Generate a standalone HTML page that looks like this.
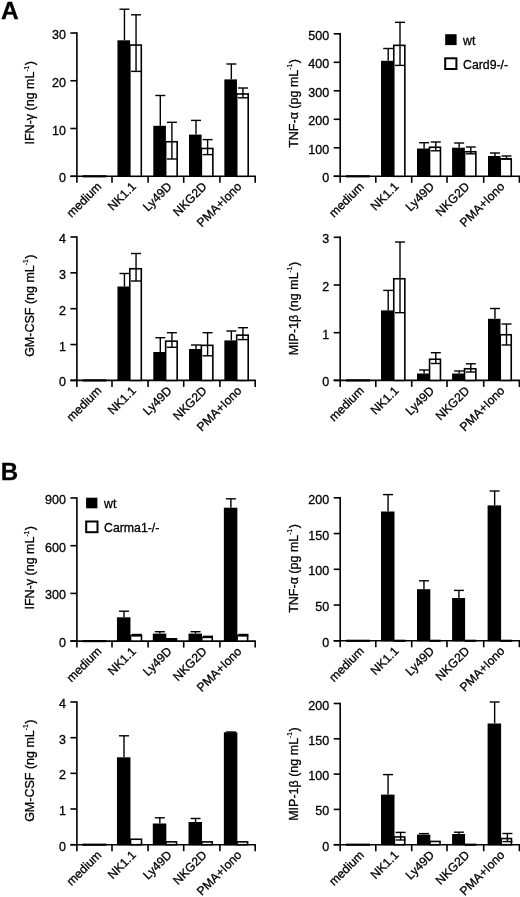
<!DOCTYPE html>
<html><head><meta charset="utf-8"><title>Figure</title>
<style>
html,body{margin:0;padding:0;background:#fff;}
body{width:520px;height:897px;overflow:hidden;}
svg{display:block;will-change:transform;transform:translateZ(0);}
text{font-family:"Liberation Sans", sans-serif;fill:#000;stroke:#000;stroke-width:0.3px;}
</style></head><body>
<svg width="520" height="897" viewBox="0 0 520 897">
<rect x="0" y="0" width="520" height="897" fill="#fff"/>
<line x1="76.90" y1="32.30" x2="76.90" y2="182.80" stroke="#000" stroke-width="1.6"/>
<line x1="70.40" y1="176.30" x2="255.90" y2="176.30" stroke="#000" stroke-width="1.6"/>
<line x1="70.40" y1="33.00" x2="76.90" y2="33.00" stroke="#000" stroke-width="1.6"/>
<text x="65.90" y="39.00" text-anchor="end" font-size="12.5">30</text>
<line x1="70.40" y1="80.75" x2="76.90" y2="80.75" stroke="#000" stroke-width="1.6"/>
<text x="65.90" y="86.75" text-anchor="end" font-size="12.5">20</text>
<line x1="70.40" y1="128.50" x2="76.90" y2="128.50" stroke="#000" stroke-width="1.6"/>
<text x="65.90" y="134.50" text-anchor="end" font-size="12.5">10</text>
<line x1="70.40" y1="176.30" x2="76.90" y2="176.30" stroke="#000" stroke-width="1.6"/>
<text x="65.90" y="182.30" text-anchor="end" font-size="12.5">0</text>
<line x1="112.00" y1="176.30" x2="112.00" y2="182.80" stroke="#000" stroke-width="1.6"/>
<line x1="148.10" y1="176.30" x2="148.10" y2="182.80" stroke="#000" stroke-width="1.6"/>
<line x1="183.70" y1="176.30" x2="183.70" y2="182.80" stroke="#000" stroke-width="1.6"/>
<line x1="219.90" y1="176.30" x2="219.90" y2="182.80" stroke="#000" stroke-width="1.6"/>
<line x1="255.20" y1="176.30" x2="255.20" y2="182.80" stroke="#000" stroke-width="1.6"/>
<text transform="translate(33.80,102.75) rotate(-90)" text-anchor="middle" font-size="12.5">IFN-γ (ng mL<tspan font-size="6.5" dy="-5.2" stroke-width="0.2">-1</tspan><tspan dy="5.2" dx="0.6">)</tspan></text>
<text transform="translate(102.15,187.30) rotate(-45)" text-anchor="end" font-size="12.2">medium</text>
<text transform="translate(136.75,187.30) rotate(-45)" text-anchor="end" font-size="12.2">NK1.1</text>
<text transform="translate(172.60,187.30) rotate(-45)" text-anchor="end" font-size="12.2">Ly49D</text>
<text transform="translate(207.60,187.30) rotate(-45)" text-anchor="end" font-size="12.2">NKG2D</text>
<text transform="translate(242.35,187.30) rotate(-45)" text-anchor="end" font-size="12.2">PMA+Iono</text>
<line x1="82.45" y1="176.30" x2="106.45" y2="176.30" stroke="#000" stroke-width="2.2"/>
<line x1="124.45" y1="9.20" x2="124.45" y2="40.30" stroke="#000" stroke-width="1.4"/>
<line x1="119.45" y1="9.20" x2="129.45" y2="9.20" stroke="#000" stroke-width="1.4"/>
<rect x="117.45" y="40.30" width="12.60" height="136.50" fill="#000"/>
<rect x="129.80" y="45.05" width="11.50" height="131.25" fill="#fff" stroke="#000" stroke-width="1.6"/>
<line x1="136.05" y1="14.80" x2="136.05" y2="71.40" stroke="#000" stroke-width="1.4"/>
<line x1="131.05" y1="14.80" x2="141.05" y2="14.80" stroke="#000" stroke-width="1.4"/>
<line x1="131.05" y1="71.40" x2="141.05" y2="71.40" stroke="#000" stroke-width="1.4"/>
<line x1="160.30" y1="95.50" x2="160.30" y2="125.80" stroke="#000" stroke-width="1.4"/>
<line x1="155.30" y1="95.50" x2="165.30" y2="95.50" stroke="#000" stroke-width="1.4"/>
<rect x="153.30" y="125.80" width="12.60" height="51.00" fill="#000"/>
<rect x="165.65" y="141.75" width="11.50" height="34.55" fill="#fff" stroke="#000" stroke-width="1.6"/>
<line x1="171.90" y1="122.30" x2="171.90" y2="159.00" stroke="#000" stroke-width="1.4"/>
<line x1="166.90" y1="122.30" x2="176.90" y2="122.30" stroke="#000" stroke-width="1.4"/>
<line x1="166.90" y1="159.00" x2="176.90" y2="159.00" stroke="#000" stroke-width="1.4"/>
<line x1="196.00" y1="120.40" x2="196.00" y2="134.60" stroke="#000" stroke-width="1.4"/>
<line x1="191.00" y1="120.40" x2="201.00" y2="120.40" stroke="#000" stroke-width="1.4"/>
<rect x="189.00" y="134.60" width="12.60" height="42.20" fill="#000"/>
<rect x="201.35" y="148.45" width="11.50" height="27.85" fill="#fff" stroke="#000" stroke-width="1.6"/>
<line x1="207.60" y1="139.60" x2="207.60" y2="154.60" stroke="#000" stroke-width="1.4"/>
<line x1="202.60" y1="139.60" x2="212.60" y2="139.60" stroke="#000" stroke-width="1.4"/>
<line x1="202.60" y1="154.60" x2="212.60" y2="154.60" stroke="#000" stroke-width="1.4"/>
<line x1="231.35" y1="64.00" x2="231.35" y2="79.40" stroke="#000" stroke-width="1.4"/>
<line x1="226.35" y1="64.00" x2="236.35" y2="64.00" stroke="#000" stroke-width="1.4"/>
<rect x="224.35" y="79.40" width="12.60" height="97.40" fill="#000"/>
<rect x="236.70" y="93.95" width="11.50" height="82.35" fill="#fff" stroke="#000" stroke-width="1.6"/>
<line x1="242.95" y1="88.00" x2="242.95" y2="97.80" stroke="#000" stroke-width="1.4"/>
<line x1="237.95" y1="88.00" x2="247.95" y2="88.00" stroke="#000" stroke-width="1.4"/>
<line x1="237.95" y1="97.80" x2="247.95" y2="97.80" stroke="#000" stroke-width="1.4"/>
<line x1="340.20" y1="33.10" x2="340.20" y2="182.80" stroke="#000" stroke-width="1.6"/>
<line x1="333.70" y1="176.30" x2="520.10" y2="176.30" stroke="#000" stroke-width="1.6"/>
<line x1="333.70" y1="33.80" x2="340.20" y2="33.80" stroke="#000" stroke-width="1.6"/>
<text x="329.20" y="39.80" text-anchor="end" font-size="12.5">500</text>
<line x1="333.70" y1="62.30" x2="340.20" y2="62.30" stroke="#000" stroke-width="1.6"/>
<text x="329.20" y="68.30" text-anchor="end" font-size="12.5">400</text>
<line x1="333.70" y1="90.80" x2="340.20" y2="90.80" stroke="#000" stroke-width="1.6"/>
<text x="329.20" y="96.80" text-anchor="end" font-size="12.5">300</text>
<line x1="333.70" y1="119.30" x2="340.20" y2="119.30" stroke="#000" stroke-width="1.6"/>
<text x="329.20" y="125.30" text-anchor="end" font-size="12.5">200</text>
<line x1="333.70" y1="147.80" x2="340.20" y2="147.80" stroke="#000" stroke-width="1.6"/>
<text x="329.20" y="153.80" text-anchor="end" font-size="12.5">100</text>
<line x1="333.70" y1="176.30" x2="340.20" y2="176.30" stroke="#000" stroke-width="1.6"/>
<text x="329.20" y="182.30" text-anchor="end" font-size="12.5">0</text>
<line x1="375.80" y1="176.30" x2="375.80" y2="182.80" stroke="#000" stroke-width="1.6"/>
<line x1="411.70" y1="176.30" x2="411.70" y2="182.80" stroke="#000" stroke-width="1.6"/>
<line x1="447.00" y1="176.30" x2="447.00" y2="182.80" stroke="#000" stroke-width="1.6"/>
<line x1="483.70" y1="176.30" x2="483.70" y2="182.80" stroke="#000" stroke-width="1.6"/>
<line x1="519.40" y1="176.30" x2="519.40" y2="182.80" stroke="#000" stroke-width="1.6"/>
<text transform="translate(297.60,103.50) rotate(-90)" text-anchor="middle" font-size="12.5">TNF-α (pg mL<tspan font-size="6.5" dy="-5.2" stroke-width="0.2">-1</tspan><tspan dy="5.2" dx="0.6">)</tspan></text>
<text transform="translate(364.70,187.30) rotate(-45)" text-anchor="end" font-size="12.2">medium</text>
<text transform="translate(399.45,187.30) rotate(-45)" text-anchor="end" font-size="12.2">NK1.1</text>
<text transform="translate(435.05,187.30) rotate(-45)" text-anchor="end" font-size="12.2">Ly49D</text>
<text transform="translate(470.15,187.30) rotate(-45)" text-anchor="end" font-size="12.2">NKG2D</text>
<text transform="translate(505.35,187.30) rotate(-45)" text-anchor="end" font-size="12.2">PMA+Iono</text>
<line x1="346.00" y1="176.30" x2="370.00" y2="176.30" stroke="#000" stroke-width="2.2"/>
<line x1="388.20" y1="48.50" x2="388.20" y2="60.80" stroke="#000" stroke-width="1.4"/>
<line x1="383.20" y1="48.50" x2="393.20" y2="48.50" stroke="#000" stroke-width="1.4"/>
<rect x="381.00" y="60.80" width="13.00" height="116.00" fill="#000"/>
<rect x="393.75" y="45.35" width="11.10" height="130.95" fill="#fff" stroke="#000" stroke-width="1.6"/>
<line x1="400.00" y1="22.30" x2="400.00" y2="65.40" stroke="#000" stroke-width="1.4"/>
<line x1="395.00" y1="22.30" x2="405.00" y2="22.30" stroke="#000" stroke-width="1.4"/>
<line x1="395.00" y1="65.40" x2="405.00" y2="65.40" stroke="#000" stroke-width="1.4"/>
<line x1="424.10" y1="142.70" x2="424.10" y2="148.50" stroke="#000" stroke-width="1.4"/>
<line x1="419.10" y1="142.70" x2="429.10" y2="142.70" stroke="#000" stroke-width="1.4"/>
<rect x="417.00" y="148.50" width="12.80" height="28.30" fill="#000"/>
<rect x="429.55" y="147.25" width="10.90" height="29.05" fill="#fff" stroke="#000" stroke-width="1.6"/>
<line x1="435.80" y1="142.00" x2="435.80" y2="150.80" stroke="#000" stroke-width="1.4"/>
<line x1="430.80" y1="142.00" x2="440.80" y2="142.00" stroke="#000" stroke-width="1.4"/>
<line x1="430.80" y1="150.80" x2="440.80" y2="150.80" stroke="#000" stroke-width="1.4"/>
<line x1="459.15" y1="143.00" x2="459.15" y2="147.70" stroke="#000" stroke-width="1.4"/>
<line x1="454.15" y1="143.00" x2="464.15" y2="143.00" stroke="#000" stroke-width="1.4"/>
<rect x="452.10" y="147.70" width="12.70" height="29.10" fill="#000"/>
<rect x="464.55" y="151.75" width="11.30" height="24.55" fill="#fff" stroke="#000" stroke-width="1.6"/>
<line x1="470.80" y1="147.00" x2="470.80" y2="153.80" stroke="#000" stroke-width="1.4"/>
<line x1="465.80" y1="147.00" x2="475.80" y2="147.00" stroke="#000" stroke-width="1.4"/>
<line x1="465.80" y1="153.80" x2="475.80" y2="153.80" stroke="#000" stroke-width="1.4"/>
<line x1="494.95" y1="153.00" x2="494.95" y2="156.00" stroke="#000" stroke-width="1.4"/>
<line x1="489.95" y1="153.00" x2="499.95" y2="153.00" stroke="#000" stroke-width="1.4"/>
<rect x="488.00" y="156.00" width="12.50" height="20.80" fill="#000"/>
<rect x="500.25" y="158.75" width="11.00" height="17.55" fill="#fff" stroke="#000" stroke-width="1.6"/>
<line x1="506.50" y1="156.00" x2="506.50" y2="159.20" stroke="#000" stroke-width="1.4"/>
<line x1="501.50" y1="156.00" x2="511.50" y2="156.00" stroke="#000" stroke-width="1.4"/>
<line x1="501.50" y1="159.20" x2="511.50" y2="159.20" stroke="#000" stroke-width="1.4"/>
<line x1="76.90" y1="236.30" x2="76.90" y2="386.90" stroke="#000" stroke-width="1.6"/>
<line x1="70.40" y1="380.40" x2="255.90" y2="380.40" stroke="#000" stroke-width="1.6"/>
<line x1="70.40" y1="237.00" x2="76.90" y2="237.00" stroke="#000" stroke-width="1.6"/>
<text x="65.90" y="243.00" text-anchor="end" font-size="12.5">4</text>
<line x1="70.40" y1="272.85" x2="76.90" y2="272.85" stroke="#000" stroke-width="1.6"/>
<text x="65.90" y="278.85" text-anchor="end" font-size="12.5">3</text>
<line x1="70.40" y1="308.70" x2="76.90" y2="308.70" stroke="#000" stroke-width="1.6"/>
<text x="65.90" y="314.70" text-anchor="end" font-size="12.5">2</text>
<line x1="70.40" y1="344.55" x2="76.90" y2="344.55" stroke="#000" stroke-width="1.6"/>
<text x="65.90" y="350.55" text-anchor="end" font-size="12.5">1</text>
<line x1="70.40" y1="380.40" x2="76.90" y2="380.40" stroke="#000" stroke-width="1.6"/>
<text x="65.90" y="386.40" text-anchor="end" font-size="12.5">0</text>
<line x1="112.00" y1="380.40" x2="112.00" y2="386.90" stroke="#000" stroke-width="1.6"/>
<line x1="148.10" y1="380.40" x2="148.10" y2="386.90" stroke="#000" stroke-width="1.6"/>
<line x1="183.70" y1="380.40" x2="183.70" y2="386.90" stroke="#000" stroke-width="1.6"/>
<line x1="219.90" y1="380.40" x2="219.90" y2="386.90" stroke="#000" stroke-width="1.6"/>
<line x1="255.20" y1="380.40" x2="255.20" y2="386.90" stroke="#000" stroke-width="1.6"/>
<text transform="translate(33.50,305.75) rotate(-90)" text-anchor="middle" font-size="12.5">GM-CSF (ng mL<tspan font-size="6.5" dy="-5.2" stroke-width="0.2">-1</tspan><tspan dy="5.2" dx="0.6">)</tspan></text>
<text transform="translate(102.15,391.40) rotate(-45)" text-anchor="end" font-size="12.2">medium</text>
<text transform="translate(136.75,391.40) rotate(-45)" text-anchor="end" font-size="12.2">NK1.1</text>
<text transform="translate(172.60,391.40) rotate(-45)" text-anchor="end" font-size="12.2">Ly49D</text>
<text transform="translate(207.60,391.40) rotate(-45)" text-anchor="end" font-size="12.2">NKG2D</text>
<text transform="translate(242.35,391.40) rotate(-45)" text-anchor="end" font-size="12.2">PMA+Iono</text>
<line x1="82.45" y1="380.40" x2="106.45" y2="380.40" stroke="#000" stroke-width="2.2"/>
<line x1="124.45" y1="273.50" x2="124.45" y2="286.50" stroke="#000" stroke-width="1.4"/>
<line x1="119.45" y1="273.50" x2="129.45" y2="273.50" stroke="#000" stroke-width="1.4"/>
<rect x="117.45" y="286.50" width="12.60" height="94.40" fill="#000"/>
<rect x="129.80" y="268.75" width="11.50" height="111.65" fill="#fff" stroke="#000" stroke-width="1.6"/>
<line x1="136.05" y1="253.50" x2="136.05" y2="281.00" stroke="#000" stroke-width="1.4"/>
<line x1="131.05" y1="253.50" x2="141.05" y2="253.50" stroke="#000" stroke-width="1.4"/>
<line x1="131.05" y1="281.00" x2="141.05" y2="281.00" stroke="#000" stroke-width="1.4"/>
<line x1="160.30" y1="337.70" x2="160.30" y2="352.00" stroke="#000" stroke-width="1.4"/>
<line x1="155.30" y1="337.70" x2="165.30" y2="337.70" stroke="#000" stroke-width="1.4"/>
<rect x="153.30" y="352.00" width="12.60" height="28.90" fill="#000"/>
<rect x="165.65" y="341.15" width="11.50" height="39.25" fill="#fff" stroke="#000" stroke-width="1.6"/>
<line x1="171.90" y1="332.70" x2="171.90" y2="347.30" stroke="#000" stroke-width="1.4"/>
<line x1="166.90" y1="332.70" x2="176.90" y2="332.70" stroke="#000" stroke-width="1.4"/>
<line x1="166.90" y1="347.30" x2="176.90" y2="347.30" stroke="#000" stroke-width="1.4"/>
<line x1="196.00" y1="345.00" x2="196.00" y2="349.00" stroke="#000" stroke-width="1.4"/>
<line x1="191.00" y1="345.00" x2="201.00" y2="345.00" stroke="#000" stroke-width="1.4"/>
<rect x="189.00" y="349.00" width="12.60" height="31.90" fill="#000"/>
<rect x="201.35" y="345.35" width="11.50" height="35.05" fill="#fff" stroke="#000" stroke-width="1.6"/>
<line x1="207.60" y1="332.70" x2="207.60" y2="355.80" stroke="#000" stroke-width="1.4"/>
<line x1="202.60" y1="332.70" x2="212.60" y2="332.70" stroke="#000" stroke-width="1.4"/>
<line x1="202.60" y1="355.80" x2="212.60" y2="355.80" stroke="#000" stroke-width="1.4"/>
<line x1="231.35" y1="331.00" x2="231.35" y2="340.40" stroke="#000" stroke-width="1.4"/>
<line x1="226.35" y1="331.00" x2="236.35" y2="331.00" stroke="#000" stroke-width="1.4"/>
<rect x="224.35" y="340.40" width="12.60" height="40.50" fill="#000"/>
<rect x="236.70" y="335.15" width="11.50" height="45.25" fill="#fff" stroke="#000" stroke-width="1.6"/>
<line x1="242.95" y1="327.70" x2="242.95" y2="339.60" stroke="#000" stroke-width="1.4"/>
<line x1="237.95" y1="327.70" x2="247.95" y2="327.70" stroke="#000" stroke-width="1.4"/>
<line x1="237.95" y1="339.60" x2="247.95" y2="339.60" stroke="#000" stroke-width="1.4"/>
<line x1="340.20" y1="236.60" x2="340.20" y2="386.90" stroke="#000" stroke-width="1.6"/>
<line x1="333.70" y1="380.40" x2="520.10" y2="380.40" stroke="#000" stroke-width="1.6"/>
<line x1="333.70" y1="237.30" x2="340.20" y2="237.30" stroke="#000" stroke-width="1.6"/>
<text x="329.20" y="243.30" text-anchor="end" font-size="12.5">3</text>
<line x1="333.70" y1="285.00" x2="340.20" y2="285.00" stroke="#000" stroke-width="1.6"/>
<text x="329.20" y="291.00" text-anchor="end" font-size="12.5">2</text>
<line x1="333.70" y1="332.70" x2="340.20" y2="332.70" stroke="#000" stroke-width="1.6"/>
<text x="329.20" y="338.70" text-anchor="end" font-size="12.5">1</text>
<line x1="333.70" y1="380.40" x2="340.20" y2="380.40" stroke="#000" stroke-width="1.6"/>
<text x="329.20" y="386.40" text-anchor="end" font-size="12.5">0</text>
<line x1="375.80" y1="380.40" x2="375.80" y2="386.90" stroke="#000" stroke-width="1.6"/>
<line x1="411.70" y1="380.40" x2="411.70" y2="386.90" stroke="#000" stroke-width="1.6"/>
<line x1="447.00" y1="380.40" x2="447.00" y2="386.90" stroke="#000" stroke-width="1.6"/>
<line x1="483.70" y1="380.40" x2="483.70" y2="386.90" stroke="#000" stroke-width="1.6"/>
<line x1="519.40" y1="380.40" x2="519.40" y2="386.90" stroke="#000" stroke-width="1.6"/>
<text transform="translate(297.60,308.60) rotate(-90)" text-anchor="middle" font-size="12.5">MIP-1β (ng mL<tspan font-size="6.5" dy="-5.2" stroke-width="0.2">-1</tspan><tspan dy="5.2" dx="0.6">)</tspan></text>
<text transform="translate(364.70,391.40) rotate(-45)" text-anchor="end" font-size="12.2">medium</text>
<text transform="translate(399.45,391.40) rotate(-45)" text-anchor="end" font-size="12.2">NK1.1</text>
<text transform="translate(435.05,391.40) rotate(-45)" text-anchor="end" font-size="12.2">Ly49D</text>
<text transform="translate(470.15,391.40) rotate(-45)" text-anchor="end" font-size="12.2">NKG2D</text>
<text transform="translate(505.35,391.40) rotate(-45)" text-anchor="end" font-size="12.2">PMA+Iono</text>
<line x1="346.00" y1="380.40" x2="370.00" y2="380.40" stroke="#000" stroke-width="2.2"/>
<line x1="388.20" y1="290.40" x2="388.20" y2="310.40" stroke="#000" stroke-width="1.4"/>
<line x1="383.20" y1="290.40" x2="393.20" y2="290.40" stroke="#000" stroke-width="1.4"/>
<rect x="381.00" y="310.40" width="13.00" height="70.50" fill="#000"/>
<rect x="393.75" y="278.75" width="11.10" height="101.65" fill="#fff" stroke="#000" stroke-width="1.6"/>
<line x1="400.00" y1="242.00" x2="400.00" y2="312.70" stroke="#000" stroke-width="1.4"/>
<line x1="395.00" y1="242.00" x2="405.00" y2="242.00" stroke="#000" stroke-width="1.4"/>
<line x1="395.00" y1="312.70" x2="405.00" y2="312.70" stroke="#000" stroke-width="1.4"/>
<line x1="424.10" y1="370.00" x2="424.10" y2="373.50" stroke="#000" stroke-width="1.4"/>
<line x1="419.10" y1="370.00" x2="429.10" y2="370.00" stroke="#000" stroke-width="1.4"/>
<rect x="417.00" y="373.50" width="12.80" height="7.40" fill="#000"/>
<rect x="429.55" y="359.25" width="10.90" height="21.15" fill="#fff" stroke="#000" stroke-width="1.6"/>
<line x1="435.80" y1="352.70" x2="435.80" y2="363.50" stroke="#000" stroke-width="1.4"/>
<line x1="430.80" y1="352.70" x2="440.80" y2="352.70" stroke="#000" stroke-width="1.4"/>
<line x1="430.80" y1="363.50" x2="440.80" y2="363.50" stroke="#000" stroke-width="1.4"/>
<line x1="459.15" y1="371.00" x2="459.15" y2="373.50" stroke="#000" stroke-width="1.4"/>
<line x1="454.15" y1="371.00" x2="464.15" y2="371.00" stroke="#000" stroke-width="1.4"/>
<rect x="452.10" y="373.50" width="12.70" height="7.40" fill="#000"/>
<rect x="464.55" y="368.75" width="11.30" height="11.65" fill="#fff" stroke="#000" stroke-width="1.6"/>
<line x1="470.80" y1="363.80" x2="470.80" y2="372.00" stroke="#000" stroke-width="1.4"/>
<line x1="465.80" y1="363.80" x2="475.80" y2="363.80" stroke="#000" stroke-width="1.4"/>
<line x1="465.80" y1="372.00" x2="475.80" y2="372.00" stroke="#000" stroke-width="1.4"/>
<line x1="494.95" y1="308.50" x2="494.95" y2="318.80" stroke="#000" stroke-width="1.4"/>
<line x1="489.95" y1="308.50" x2="499.95" y2="308.50" stroke="#000" stroke-width="1.4"/>
<rect x="488.00" y="318.80" width="12.50" height="62.10" fill="#000"/>
<rect x="500.25" y="334.75" width="11.00" height="45.65" fill="#fff" stroke="#000" stroke-width="1.6"/>
<line x1="506.50" y1="324.00" x2="506.50" y2="345.00" stroke="#000" stroke-width="1.4"/>
<line x1="501.50" y1="324.00" x2="511.50" y2="324.00" stroke="#000" stroke-width="1.4"/>
<line x1="501.50" y1="345.00" x2="511.50" y2="345.00" stroke="#000" stroke-width="1.4"/>
<line x1="76.90" y1="497.30" x2="76.90" y2="647.60" stroke="#000" stroke-width="1.6"/>
<line x1="70.40" y1="641.10" x2="255.90" y2="641.10" stroke="#000" stroke-width="1.6"/>
<line x1="70.40" y1="498.00" x2="76.90" y2="498.00" stroke="#000" stroke-width="1.6"/>
<text x="65.90" y="504.00" text-anchor="end" font-size="12.5">900</text>
<line x1="70.40" y1="545.70" x2="76.90" y2="545.70" stroke="#000" stroke-width="1.6"/>
<text x="65.90" y="551.70" text-anchor="end" font-size="12.5">600</text>
<line x1="70.40" y1="593.40" x2="76.90" y2="593.40" stroke="#000" stroke-width="1.6"/>
<text x="65.90" y="599.40" text-anchor="end" font-size="12.5">300</text>
<line x1="70.40" y1="641.10" x2="76.90" y2="641.10" stroke="#000" stroke-width="1.6"/>
<text x="65.90" y="647.10" text-anchor="end" font-size="12.5">0</text>
<line x1="112.00" y1="641.10" x2="112.00" y2="647.60" stroke="#000" stroke-width="1.6"/>
<line x1="148.10" y1="641.10" x2="148.10" y2="647.60" stroke="#000" stroke-width="1.6"/>
<line x1="183.70" y1="641.10" x2="183.70" y2="647.60" stroke="#000" stroke-width="1.6"/>
<line x1="219.90" y1="641.10" x2="219.90" y2="647.60" stroke="#000" stroke-width="1.6"/>
<line x1="255.20" y1="641.10" x2="255.20" y2="647.60" stroke="#000" stroke-width="1.6"/>
<text transform="translate(33.80,567.75) rotate(-90)" text-anchor="middle" font-size="12.5">IFN-γ (ng mL<tspan font-size="6.5" dy="-5.2" stroke-width="0.2">-1</tspan><tspan dy="5.2" dx="0.6">)</tspan></text>
<text transform="translate(102.15,652.10) rotate(-45)" text-anchor="end" font-size="12.2">medium</text>
<text transform="translate(136.75,652.10) rotate(-45)" text-anchor="end" font-size="12.2">NK1.1</text>
<text transform="translate(172.60,652.10) rotate(-45)" text-anchor="end" font-size="12.2">Ly49D</text>
<text transform="translate(207.60,652.10) rotate(-45)" text-anchor="end" font-size="12.2">NKG2D</text>
<text transform="translate(242.35,652.10) rotate(-45)" text-anchor="end" font-size="12.2">PMA+Iono</text>
<line x1="82.45" y1="641.10" x2="106.45" y2="641.10" stroke="#000" stroke-width="2.2"/>
<line x1="124.00" y1="611.20" x2="124.00" y2="617.30" stroke="#000" stroke-width="1.4"/>
<line x1="119.00" y1="611.20" x2="129.00" y2="611.20" stroke="#000" stroke-width="1.4"/>
<rect x="116.95" y="617.30" width="13.50" height="24.30" fill="#000"/>
<rect x="130.50" y="635.45" width="11.00" height="5.65" fill="#fff" stroke="#000" stroke-width="1.6"/>
<line x1="136.75" y1="634.50" x2="136.75" y2="635.80" stroke="#000" stroke-width="1.4"/>
<line x1="131.75" y1="634.50" x2="141.75" y2="634.50" stroke="#000" stroke-width="1.4"/>
<line x1="131.75" y1="635.80" x2="141.75" y2="635.80" stroke="#000" stroke-width="1.4"/>
<line x1="159.85" y1="631.70" x2="159.85" y2="633.60" stroke="#000" stroke-width="1.4"/>
<line x1="154.85" y1="631.70" x2="164.85" y2="631.70" stroke="#000" stroke-width="1.4"/>
<rect x="152.80" y="633.60" width="13.50" height="8.00" fill="#000"/>
<rect x="165.30" y="638.00" width="12.00" height="3.60" fill="#000"/>
<line x1="195.55" y1="631.70" x2="195.55" y2="633.60" stroke="#000" stroke-width="1.4"/>
<line x1="190.55" y1="631.70" x2="200.55" y2="631.70" stroke="#000" stroke-width="1.4"/>
<rect x="188.50" y="633.60" width="13.50" height="8.00" fill="#000"/>
<rect x="201.75" y="637.35" width="10.50" height="3.75" fill="#fff" stroke="#000" stroke-width="1.6"/>
<line x1="208.00" y1="636.30" x2="208.00" y2="637.20" stroke="#000" stroke-width="1.4"/>
<line x1="203.00" y1="636.30" x2="213.00" y2="636.30" stroke="#000" stroke-width="1.4"/>
<line x1="203.00" y1="637.20" x2="213.00" y2="637.20" stroke="#000" stroke-width="1.4"/>
<line x1="230.90" y1="498.80" x2="230.90" y2="507.70" stroke="#000" stroke-width="1.4"/>
<line x1="225.90" y1="498.80" x2="235.90" y2="498.80" stroke="#000" stroke-width="1.4"/>
<rect x="223.85" y="507.70" width="13.50" height="133.90" fill="#000"/>
<rect x="237.10" y="635.45" width="10.50" height="5.65" fill="#fff" stroke="#000" stroke-width="1.6"/>
<line x1="243.35" y1="634.50" x2="243.35" y2="635.80" stroke="#000" stroke-width="1.4"/>
<line x1="238.35" y1="634.50" x2="248.35" y2="634.50" stroke="#000" stroke-width="1.4"/>
<line x1="238.35" y1="635.80" x2="248.35" y2="635.80" stroke="#000" stroke-width="1.4"/>
<line x1="340.20" y1="497.10" x2="340.20" y2="647.30" stroke="#000" stroke-width="1.6"/>
<line x1="333.70" y1="640.80" x2="520.10" y2="640.80" stroke="#000" stroke-width="1.6"/>
<line x1="333.70" y1="497.80" x2="340.20" y2="497.80" stroke="#000" stroke-width="1.6"/>
<text x="329.20" y="503.80" text-anchor="end" font-size="12.5">200</text>
<line x1="333.70" y1="533.55" x2="340.20" y2="533.55" stroke="#000" stroke-width="1.6"/>
<text x="329.20" y="539.55" text-anchor="end" font-size="12.5">150</text>
<line x1="333.70" y1="569.30" x2="340.20" y2="569.30" stroke="#000" stroke-width="1.6"/>
<text x="329.20" y="575.30" text-anchor="end" font-size="12.5">100</text>
<line x1="333.70" y1="605.05" x2="340.20" y2="605.05" stroke="#000" stroke-width="1.6"/>
<text x="329.20" y="611.05" text-anchor="end" font-size="12.5">50</text>
<line x1="333.70" y1="640.80" x2="340.20" y2="640.80" stroke="#000" stroke-width="1.6"/>
<text x="329.20" y="646.80" text-anchor="end" font-size="12.5">0</text>
<line x1="375.80" y1="640.80" x2="375.80" y2="647.30" stroke="#000" stroke-width="1.6"/>
<line x1="411.70" y1="640.80" x2="411.70" y2="647.30" stroke="#000" stroke-width="1.6"/>
<line x1="447.00" y1="640.80" x2="447.00" y2="647.30" stroke="#000" stroke-width="1.6"/>
<line x1="483.70" y1="640.80" x2="483.70" y2="647.30" stroke="#000" stroke-width="1.6"/>
<line x1="519.40" y1="640.80" x2="519.40" y2="647.30" stroke="#000" stroke-width="1.6"/>
<text transform="translate(297.60,568.50) rotate(-90)" text-anchor="middle" font-size="12.5">TNF-α (pg mL<tspan font-size="6.5" dy="-5.2" stroke-width="0.2">-1</tspan><tspan dy="5.2" dx="0.6">)</tspan></text>
<text transform="translate(364.70,651.80) rotate(-45)" text-anchor="end" font-size="12.2">medium</text>
<text transform="translate(399.45,651.80) rotate(-45)" text-anchor="end" font-size="12.2">NK1.1</text>
<text transform="translate(435.05,651.80) rotate(-45)" text-anchor="end" font-size="12.2">Ly49D</text>
<text transform="translate(470.15,651.80) rotate(-45)" text-anchor="end" font-size="12.2">NKG2D</text>
<text transform="translate(505.35,651.80) rotate(-45)" text-anchor="end" font-size="12.2">PMA+Iono</text>
<line x1="346.00" y1="640.80" x2="370.00" y2="640.80" stroke="#000" stroke-width="2.2"/>
<line x1="388.05" y1="494.60" x2="388.05" y2="511.50" stroke="#000" stroke-width="1.4"/>
<line x1="383.05" y1="494.60" x2="393.05" y2="494.60" stroke="#000" stroke-width="1.4"/>
<rect x="381.00" y="511.50" width="13.50" height="129.80" fill="#000"/>
<line x1="393.60" y1="640.80" x2="405.50" y2="640.80" stroke="#000" stroke-width="2.2"/>
<line x1="423.95" y1="580.80" x2="423.95" y2="589.20" stroke="#000" stroke-width="1.4"/>
<line x1="418.95" y1="580.80" x2="428.95" y2="580.80" stroke="#000" stroke-width="1.4"/>
<rect x="417.00" y="589.20" width="13.30" height="52.10" fill="#000"/>
<line x1="429.30" y1="640.80" x2="440.80" y2="640.80" stroke="#000" stroke-width="2.2"/>
<line x1="458.90" y1="590.40" x2="458.90" y2="598.00" stroke="#000" stroke-width="1.4"/>
<line x1="453.90" y1="590.40" x2="463.90" y2="590.40" stroke="#000" stroke-width="1.4"/>
<rect x="452.10" y="598.00" width="13.00" height="43.30" fill="#000"/>
<line x1="464.60" y1="640.80" x2="476.30" y2="640.80" stroke="#000" stroke-width="2.2"/>
<line x1="494.65" y1="491.00" x2="494.65" y2="505.40" stroke="#000" stroke-width="1.4"/>
<line x1="489.65" y1="491.00" x2="499.65" y2="491.00" stroke="#000" stroke-width="1.4"/>
<rect x="487.60" y="505.40" width="13.50" height="135.90" fill="#000"/>
<line x1="500.40" y1="640.80" x2="512.20" y2="640.80" stroke="#000" stroke-width="2.2"/>
<line x1="76.90" y1="701.30" x2="76.90" y2="851.20" stroke="#000" stroke-width="1.6"/>
<line x1="70.40" y1="844.70" x2="255.90" y2="844.70" stroke="#000" stroke-width="1.6"/>
<line x1="70.40" y1="702.00" x2="76.90" y2="702.00" stroke="#000" stroke-width="1.6"/>
<text x="65.90" y="708.00" text-anchor="end" font-size="12.5">4</text>
<line x1="70.40" y1="737.70" x2="76.90" y2="737.70" stroke="#000" stroke-width="1.6"/>
<text x="65.90" y="743.70" text-anchor="end" font-size="12.5">3</text>
<line x1="70.40" y1="773.35" x2="76.90" y2="773.35" stroke="#000" stroke-width="1.6"/>
<text x="65.90" y="779.35" text-anchor="end" font-size="12.5">2</text>
<line x1="70.40" y1="809.00" x2="76.90" y2="809.00" stroke="#000" stroke-width="1.6"/>
<text x="65.90" y="815.00" text-anchor="end" font-size="12.5">1</text>
<line x1="70.40" y1="844.70" x2="76.90" y2="844.70" stroke="#000" stroke-width="1.6"/>
<text x="65.90" y="850.70" text-anchor="end" font-size="12.5">0</text>
<line x1="112.00" y1="844.70" x2="112.00" y2="851.20" stroke="#000" stroke-width="1.6"/>
<line x1="148.10" y1="844.70" x2="148.10" y2="851.20" stroke="#000" stroke-width="1.6"/>
<line x1="183.70" y1="844.70" x2="183.70" y2="851.20" stroke="#000" stroke-width="1.6"/>
<line x1="219.90" y1="844.70" x2="219.90" y2="851.20" stroke="#000" stroke-width="1.6"/>
<line x1="255.20" y1="844.70" x2="255.20" y2="851.20" stroke="#000" stroke-width="1.6"/>
<text transform="translate(33.50,770.75) rotate(-90)" text-anchor="middle" font-size="12.5">GM-CSF (ng mL<tspan font-size="6.5" dy="-5.2" stroke-width="0.2">-1</tspan><tspan dy="5.2" dx="0.6">)</tspan></text>
<text transform="translate(102.15,855.70) rotate(-45)" text-anchor="end" font-size="12.2">medium</text>
<text transform="translate(136.75,855.70) rotate(-45)" text-anchor="end" font-size="12.2">NK1.1</text>
<text transform="translate(172.60,855.70) rotate(-45)" text-anchor="end" font-size="12.2">Ly49D</text>
<text transform="translate(207.60,855.70) rotate(-45)" text-anchor="end" font-size="12.2">NKG2D</text>
<text transform="translate(242.35,855.70) rotate(-45)" text-anchor="end" font-size="12.2">PMA+Iono</text>
<line x1="82.45" y1="844.70" x2="106.45" y2="844.70" stroke="#000" stroke-width="2.2"/>
<line x1="124.00" y1="735.80" x2="124.00" y2="757.30" stroke="#000" stroke-width="1.4"/>
<line x1="119.00" y1="735.80" x2="129.00" y2="735.80" stroke="#000" stroke-width="1.4"/>
<rect x="116.95" y="757.30" width="13.50" height="87.90" fill="#000"/>
<rect x="130.50" y="839.25" width="11.00" height="5.45" fill="#fff" stroke="#000" stroke-width="1.6"/>
<line x1="159.85" y1="817.80" x2="159.85" y2="823.50" stroke="#000" stroke-width="1.4"/>
<line x1="154.85" y1="817.80" x2="164.85" y2="817.80" stroke="#000" stroke-width="1.4"/>
<rect x="152.80" y="823.50" width="13.50" height="21.70" fill="#000"/>
<rect x="166.05" y="841.85" width="10.50" height="2.85" fill="#fff" stroke="#000" stroke-width="1.6"/>
<line x1="195.55" y1="818.50" x2="195.55" y2="822.00" stroke="#000" stroke-width="1.4"/>
<line x1="190.55" y1="818.50" x2="200.55" y2="818.50" stroke="#000" stroke-width="1.4"/>
<rect x="188.50" y="822.00" width="13.50" height="23.20" fill="#000"/>
<rect x="201.75" y="841.85" width="10.50" height="2.85" fill="#fff" stroke="#000" stroke-width="1.6"/>
<line x1="230.90" y1="732.00" x2="230.90" y2="732.30" stroke="#000" stroke-width="1.4"/>
<line x1="225.90" y1="732.00" x2="235.90" y2="732.00" stroke="#000" stroke-width="1.4"/>
<rect x="223.85" y="732.30" width="13.50" height="112.90" fill="#000"/>
<rect x="237.10" y="841.85" width="10.50" height="2.85" fill="#fff" stroke="#000" stroke-width="1.6"/>
<line x1="340.20" y1="702.80" x2="340.20" y2="851.20" stroke="#000" stroke-width="1.6"/>
<line x1="333.70" y1="844.70" x2="520.10" y2="844.70" stroke="#000" stroke-width="1.6"/>
<line x1="333.70" y1="703.50" x2="340.20" y2="703.50" stroke="#000" stroke-width="1.6"/>
<text x="329.20" y="709.50" text-anchor="end" font-size="12.5">200</text>
<line x1="333.70" y1="738.80" x2="340.20" y2="738.80" stroke="#000" stroke-width="1.6"/>
<text x="329.20" y="744.80" text-anchor="end" font-size="12.5">150</text>
<line x1="333.70" y1="774.10" x2="340.20" y2="774.10" stroke="#000" stroke-width="1.6"/>
<text x="329.20" y="780.10" text-anchor="end" font-size="12.5">100</text>
<line x1="333.70" y1="809.40" x2="340.20" y2="809.40" stroke="#000" stroke-width="1.6"/>
<text x="329.20" y="815.40" text-anchor="end" font-size="12.5">50</text>
<line x1="333.70" y1="844.70" x2="340.20" y2="844.70" stroke="#000" stroke-width="1.6"/>
<text x="329.20" y="850.70" text-anchor="end" font-size="12.5">0</text>
<line x1="375.80" y1="844.70" x2="375.80" y2="851.20" stroke="#000" stroke-width="1.6"/>
<line x1="411.70" y1="844.70" x2="411.70" y2="851.20" stroke="#000" stroke-width="1.6"/>
<line x1="447.00" y1="844.70" x2="447.00" y2="851.20" stroke="#000" stroke-width="1.6"/>
<line x1="483.70" y1="844.70" x2="483.70" y2="851.20" stroke="#000" stroke-width="1.6"/>
<line x1="519.40" y1="844.70" x2="519.40" y2="851.20" stroke="#000" stroke-width="1.6"/>
<text transform="translate(297.60,774.10) rotate(-90)" text-anchor="middle" font-size="12.5">MIP-1β (ng mL<tspan font-size="6.5" dy="-5.2" stroke-width="0.2">-1</tspan><tspan dy="5.2" dx="0.6">)</tspan></text>
<text transform="translate(364.70,855.70) rotate(-45)" text-anchor="end" font-size="12.2">medium</text>
<text transform="translate(399.45,855.70) rotate(-45)" text-anchor="end" font-size="12.2">NK1.1</text>
<text transform="translate(435.05,855.70) rotate(-45)" text-anchor="end" font-size="12.2">Ly49D</text>
<text transform="translate(470.15,855.70) rotate(-45)" text-anchor="end" font-size="12.2">NKG2D</text>
<text transform="translate(505.35,855.70) rotate(-45)" text-anchor="end" font-size="12.2">PMA+Iono</text>
<line x1="346.00" y1="844.70" x2="370.00" y2="844.70" stroke="#000" stroke-width="2.2"/>
<line x1="388.05" y1="774.60" x2="388.05" y2="794.60" stroke="#000" stroke-width="1.4"/>
<line x1="383.05" y1="774.60" x2="393.05" y2="774.60" stroke="#000" stroke-width="1.4"/>
<rect x="381.00" y="794.60" width="13.50" height="50.60" fill="#000"/>
<rect x="394.35" y="836.95" width="10.40" height="7.75" fill="#fff" stroke="#000" stroke-width="1.6"/>
<line x1="400.60" y1="832.40" x2="400.60" y2="840.00" stroke="#000" stroke-width="1.4"/>
<line x1="395.60" y1="832.40" x2="405.60" y2="832.40" stroke="#000" stroke-width="1.4"/>
<line x1="395.60" y1="840.00" x2="405.60" y2="840.00" stroke="#000" stroke-width="1.4"/>
<line x1="423.95" y1="833.60" x2="423.95" y2="834.60" stroke="#000" stroke-width="1.4"/>
<line x1="418.95" y1="833.60" x2="428.95" y2="833.60" stroke="#000" stroke-width="1.4"/>
<rect x="417.00" y="834.60" width="13.30" height="10.60" fill="#000"/>
<rect x="430.05" y="841.45" width="10.00" height="3.25" fill="#fff" stroke="#000" stroke-width="1.6"/>
<line x1="458.90" y1="832.20" x2="458.90" y2="834.00" stroke="#000" stroke-width="1.4"/>
<line x1="453.90" y1="832.20" x2="463.90" y2="832.20" stroke="#000" stroke-width="1.4"/>
<rect x="452.10" y="834.00" width="13.00" height="11.20" fill="#000"/>
<line x1="464.60" y1="844.70" x2="476.30" y2="844.70" stroke="#000" stroke-width="2.2"/>
<line x1="494.65" y1="702.00" x2="494.65" y2="723.50" stroke="#000" stroke-width="1.4"/>
<line x1="489.65" y1="702.00" x2="499.65" y2="702.00" stroke="#000" stroke-width="1.4"/>
<rect x="487.60" y="723.50" width="13.50" height="121.70" fill="#000"/>
<rect x="501.15" y="838.55" width="10.30" height="6.15" fill="#fff" stroke="#000" stroke-width="1.6"/>
<line x1="507.40" y1="833.50" x2="507.40" y2="841.60" stroke="#000" stroke-width="1.4"/>
<line x1="502.40" y1="833.50" x2="512.40" y2="833.50" stroke="#000" stroke-width="1.4"/>
<line x1="502.40" y1="841.60" x2="512.40" y2="841.60" stroke="#000" stroke-width="1.4"/>
<text x="1" y="19.0" font-size="24.5" font-weight="bold" stroke="none">A</text>
<text x="0.8" y="479.8" font-size="24" font-weight="bold" stroke="none">B</text>
<rect x="445.2" y="34.2" width="11.4" height="10.9" fill="#000"/>
<text x="463" y="44.6" font-size="12.3">wt</text>
<rect x="445.2" y="58.3" width="11.2" height="10.7" fill="#fff" stroke="#000" stroke-width="2"/>
<text x="463" y="68.9" font-size="12.3">Card9-/-</text>
<rect x="86.1" y="497.7" width="11.3" height="10.6" fill="#000"/>
<text x="104.0" y="508.1" font-size="12.3">wt</text>
<rect x="86.2" y="521.5" width="11.3" height="10.7" fill="#fff" stroke="#000" stroke-width="2"/>
<text x="104.0" y="532.2" font-size="12.3">Carma1-/-</text>
</svg>
</body></html>
